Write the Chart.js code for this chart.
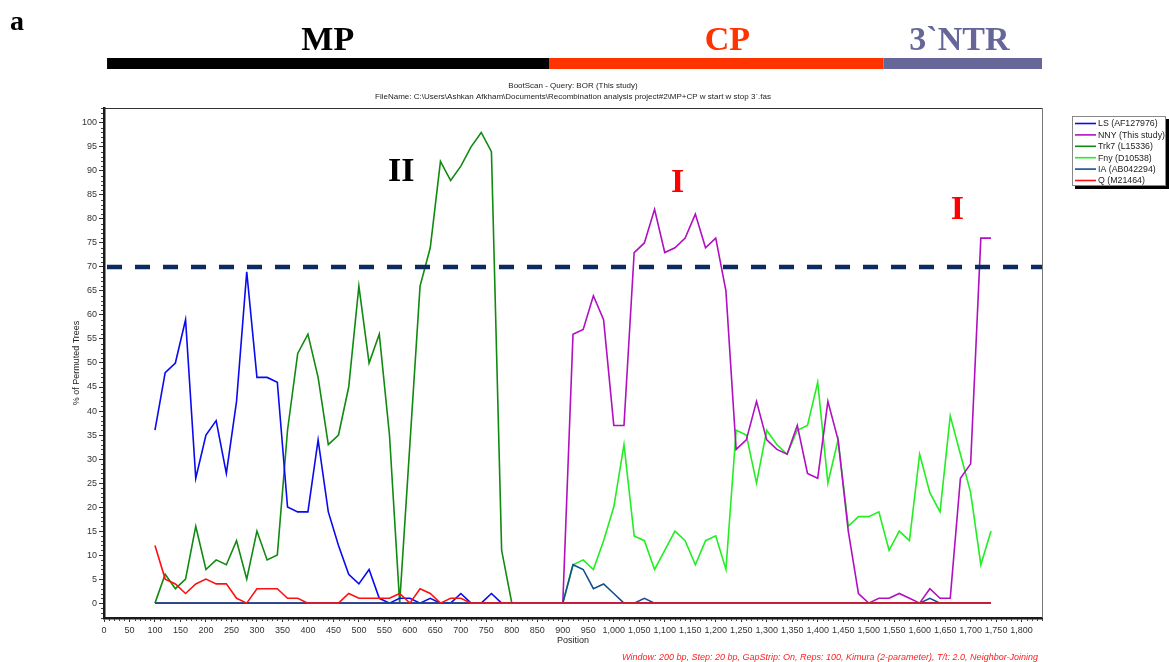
<!DOCTYPE html>
<html><head><meta charset="utf-8">
<script src="https://cdn.jsdelivr.net/npm/chart.js@4"></script>
<style>html,body{margin:0;padding:0;background:#fff;}#wrap{width:1169px;height:662px;position:relative;}</style>
</head><body><div id="wrap"><canvas id="c" width="1169" height="662"></canvas></div>
<script>
// ---- data ----
const positions = [100,120,140,160,180,200,220,240,260,280,300,320,340,360,380,400,420,440,460,480,500,520,540,560,580,600,620,640,660,680,700,720,740,760,780,800,820,840,860,880,900,920,940,960,980,1000,1020,1040,1060,1080,1100,1120,1140,1160,1180,1200,1220,1240,1260,1280,1300,1320,1340,1360,1380,1400,1420,1440,1460,1480,1500,1520,1540,1560,1580,1600,1620,1640,1660,1680,1700,1720,1740];
const valuesLS   = [36,48,50,59,26,35,38,27,42,69, 47,47,46,20,19,19,34,19,12,6, 4,7,1,0,1,1,0,1,0,0, 2,0,0,2,0,0,0,0,0,0, 0,0,0,0,0,0,0,0,0,0, 0,0,0,0,0,0,0,0,0,0, 0,0,0,0,0,0,0,0,0,0, 0,0,0,0,0,0,0,0,0,0, 0,0,0];
const valuesNNY  = [0,0,0,0,0,0,0,0,0,0, 0,0,0,0,0,0,0,0,0,0, 0,0,0,0,0,0,0,0,0,0, 0,0,0,0,0,0,0,0,0,0, 0,56,57,64,59,37,37,73,75,82, 73,74,76,81,74,76,65,32,34,42, 34,32,31,37,27,26,42,34,15,2, 0,1,1,2,1,0,3,1,1,26, 29,76,76];
const valuesTrk7 = [0,6,3,5,16,7,9,8,13,5, 15,9,10,36,52,56,47,33,35,45, 66,50,56,35,0,33,66,74,92,88, 91,95,98,94,11,0,0,0,0,0, 0,0,0,0,0,0,0,0,0,0, 0,0,0,0,0,0,0,0,0,0, 0,0,0,0,0,0,0,0,0,0, 0,0,0,0,0,0,0,0,0,0, 0,0,0];
const valuesFny  = [0,0,0,0,0,0,0,0,0,0, 0,0,0,0,0,0,0,0,0,0, 0,0,0,0,0,0,0,0,0,0, 0,0,0,0,0,0,0,0,0,0, 0,8,9,7,13,20,33,14,13,7, 11,15,13,8,13,14,7,36,35,25, 36,33,31,36,37,46,25,34,16,18, 18,19,11,15,13,31,23,19,39,31, 23,8,15];
const valuesIA   = [0,0,0,0,0,0,0,0,0,0, 0,0,0,0,0,0,0,0,0,0, 0,0,0,0,0,0,0,0,0,0, 0,0,0,0,0,0,0,0,0,0, 0,8,7,3,4,2,0,0,1,0, 0,0,0,0,0,0,0,0,0,0, 0,0,0,0,0,0,0,0,0,0, 0,0,0,0,0,0,1,0,0,0, 0,0,0];
const valuesQ    = [12,5,4,2,4,5,4,4,1,0, 3,3,3,1,1,0,0,0,0,2, 1,1,1,1,2,0,3,2,0,1, 1,0,0,0,0,0,0,0,0,0, 0,0,0,0,0,0,0,0,0,0, 0,0,0,0,0,0,0,0,0,0, 0,0,0,0,0,0,0,0,0,0, 0,0,0,0,0,0,0,0,0,0, 0,0,0];
const seriesLabels = ['LS (AF127976)','NNY (This study)','Trk7 (L15336)','Fny (D10538)','IA (AB042294)','Q (M21464)'];
const thresholdValue = 70;
const thresholdSpan = [0, 1840];
const xRange = [0, 1840];
const yRange = [-3.1, 103.1];
const xTickStep = 50, yTickStep = 5;
const regionNames = ['MP','CP','3`NTR'];
const regionStart = [6, 873, 1529];
const regionEnd   = [873, 1529, 1840];
const regionLabelAt = [439, 1223, 1678];
const markerTexts = ['II','I','I'];
const markerX = [583, 1125, 1674];
const markerY = [89.8, 87.5, 81.8];

// ---- styles ----
const colors = ['#0a0af0','#b010c0','#108a10','#22ee22','#134f8f','#ff1010'];
const regionColors = ['#000000','#ff3300','#666699'];
const markerColors = ['#000000','#ff0000','#ff0000'];
const SANS = '"Liberation Sans", Arial, sans-serif';
const SERIF = '"Liberation Serif", "Times New Roman", serif';
const seriesValues = [valuesLS, valuesNNY, valuesTrk7, valuesFny, valuesIA, valuesQ];
const drawOrder = [3,3,3,3,2,1];

const datasets = seriesValues.map((vals,i)=>({
  label: seriesLabels[i],
  data: positions.map((p,j)=>({x:p, y:vals[j]})),
  borderColor: colors[i], backgroundColor: colors[i],
  borderWidth: 1.6, pointRadius: 0, tension: 0, fill: false, order: drawOrder[i]
}));
datasets.push({
  label: 'threshold',
  data: thresholdSpan.map(p=>({x:p, y:thresholdValue})),
  borderColor: '#0c2a5e', borderWidth: 4.5, borderDash: [15,13], borderDashOffset: 25,
  pointRadius: 0, fill: false, order: 0
});

const fmt = v => Number(v).toLocaleString('en-US');

const decor = {
  id: 'decor',
  afterDraw(chart){
    const {ctx, chartArea:a, scales:{x,y}} = chart;
    ctx.save();
    // top/right frame
    ctx.lineWidth = 1;
    ctx.strokeStyle = '#333';
    ctx.beginPath(); ctx.moveTo(a.left, a.top+0.5); ctx.lineTo(a.right, a.top+0.5); ctx.stroke();
    ctx.strokeStyle = '#777';
    ctx.beginPath(); ctx.moveTo(a.right+0.5, a.top); ctx.lineTo(a.right+0.5, a.bottom); ctx.stroke();
    // minor ticks
    ctx.strokeStyle = '#444'; ctx.lineWidth = 1;
    ctx.beginPath();
    for (let v = xRange[0]; v <= xRange[1]; v += 10) {
      if (v % xTickStep === 0) continue;
      const px = Math.round(x.getPixelForValue(v)) + 0.5;
      ctx.moveTo(px, a.bottom+1); ctx.lineTo(px, a.bottom+3);
    }
    for (let v = -3; v <= 103; v += 1) {
      if (v % yTickStep === 0) continue;
      const py = Math.round(y.getPixelForValue(v)) + 0.5;
      ctx.moveTo(a.left-1, py); ctx.lineTo(a.left-3, py);
    }
    ctx.stroke();

    // genome region bars and labels
    for (let i=0;i<regionNames.length;i++){
      const x0 = x.getPixelForValue(regionStart[i]);
      const x1 = x.getPixelForValue(regionEnd[i]);
      ctx.fillStyle = regionColors[i];
      ctx.fillRect(x0, 58, x1-x0, 11);
      ctx.font = 'bold 34px ' + SERIF;
      ctx.textAlign = 'center'; ctx.textBaseline = 'alphabetic';
      ctx.fillText(regionNames[i], x.getPixelForValue(regionLabelAt[i]), 50);
    }
    // panel letter
    ctx.fillStyle = '#000';
    ctx.font = 'bold 28px ' + SERIF;
    ctx.textAlign = 'left';
    ctx.fillText('a', 10, 30);

    // titles
    ctx.fillStyle = '#222';
    ctx.font = '8px ' + SANS;
    ctx.textAlign = 'center'; ctx.textBaseline = 'middle';
    const cx = (a.left + a.right)/2;
    ctx.fillText('BootScan - Query: BOR (This study)', cx, 86);
    ctx.fillText('FileName: C:\\Users\\Ashkan Afkham\\Documents\\Recombination analysis project#2\\MP+CP w start w stop 3`.fas', cx, 97);

    // footnote
    ctx.fillStyle = '#ff2020';
    ctx.font = 'italic 9px ' + SANS;
    ctx.textAlign = 'right';
    ctx.fillText('Window: 200 bp, Step: 20 bp, GapStrip: On, Reps: 100, Kimura (2-parameter), T/t: 2.0, Neighbor-Joining', 1038, 657);

    // markers
    ctx.font = 'bold 34px ' + SERIF;
    ctx.textAlign = 'center'; ctx.textBaseline = 'middle';
    for (let i=0;i<markerTexts.length;i++){
      ctx.fillStyle = markerColors[i];
      ctx.fillText(markerTexts[i], x.getPixelForValue(markerX[i]), y.getPixelForValue(markerY[i]));
    }

    // legend
    const lx = 1072, ly = 116, lw = 94, lh = 70;
    ctx.fillStyle = '#000';
    ctx.fillRect(lx+3, ly+3, lw, lh);
    ctx.fillStyle = '#fff';
    ctx.fillRect(lx, ly, lw, lh);
    ctx.strokeStyle = '#888'; ctx.lineWidth = 1;
    ctx.strokeRect(lx+0.5, ly+0.5, lw-1, lh-1);
    ctx.font = '8.8px ' + SANS;
    ctx.textAlign = 'left'; ctx.textBaseline = 'middle';
    for (let i=0;i<seriesLabels.length;i++){
      const ry = ly + 7.5 + i*11.4;
      ctx.strokeStyle = colors[i]; ctx.lineWidth = 1.6;
      ctx.beginPath(); ctx.moveTo(lx+3, ry); ctx.lineTo(lx+24, ry); ctx.stroke();
      ctx.fillStyle = '#222';
      ctx.fillText(seriesLabels[i], lx+26, ry+0.5);
    }
    ctx.restore();
  }
};

new Chart(document.getElementById('c'), {
  type: 'line',
  data: { datasets },
  options: {
    responsive: false, animation: false, devicePixelRatio: 1,
    layout: { padding: { top: 108, right: 127, bottom: 0, left: 0 } },
    plugins: { legend: { display: false }, tooltip: { enabled: false } },
    scales: {
      x: {
        type: 'linear', position: 'bottom', min: xRange[0], max: xRange[1],
        afterFit(s){ s.height = 44; },
        grid: { drawOnChartArea: false, drawTicks: true, tickLength: 4, tickColor: '#333', color: '#333' },
        border: { display: true, width: 2.5, color: '#1a1a1a' },
        ticks: { stepSize: xTickStep, includeBounds: false, autoSkip: false, maxRotation: 0, padding: 3,
                 color: '#333', font: { family: SANS, size: 9 }, callback: v => fmt(v) },
        title: { display: true, text: 'Position', color: '#222', font: { family: SANS, size: 9 },
                 padding: { top: 0, bottom: 15.6 } }
      },
      y: {
        type: 'linear', position: 'left', min: yRange[0], max: yRange[1],
        afterFit(s){ s.width = 104; },
        grid: { drawOnChartArea: false, drawTicks: true, tickLength: 5, tickColor: '#333', color: '#333' },
        border: { display: true, width: 2.5, color: '#1a1a1a' },
        ticks: { stepSize: yTickStep, includeBounds: false, autoSkip: false, padding: 2,
                 color: '#333', font: { family: SANS, size: 9 }, callback: v => fmt(v) },
        title: { display: true, text: '% of Permuted Trees', color: '#222', font: { family: SANS, size: 9 },
                 padding: { top: 71, bottom: 0 } }
      }
    }
  },
  plugins: [decor]
});
</script></body></html>
